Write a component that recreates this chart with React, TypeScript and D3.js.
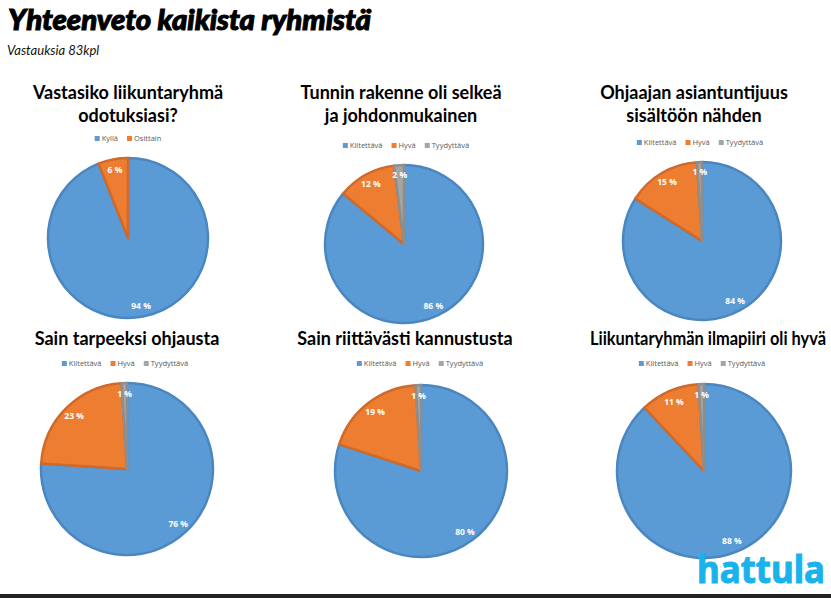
import React, { useEffect, useRef } from 'react';
import * as d3 from 'd3';

const mainTitle = 'Yhteenveto kaikista ryhmistä';
const subTitle = 'Vastauksia 83kpl';
const logoText = 'hattula';

const yesPartlyLabels = ['Kyllä', 'Osittain'];
const gradeLabels = ['Kiitettävä', 'Hyvä', 'Tyydyttävä'];

const chartTitles = [
  ['Vastasiko liikuntaryhmä', 'odotuksiasi?'],
  ['Tunnin rakenne oli selkeä', 'ja johdonmukainen'],
  ['Ohjaajan asiantuntijuus', 'sisältöön nähden'],
  ['Sain tarpeeksi ohjausta'],
  ['Sain riittävästi kannustusta'],
  ['Liikuntaryhmän ilmapiiri oli hyvä'],
];

const expectationValues = [94, 6];
const structureValues = [86, 12, 2];
const expertiseValues = [84, 15, 1];
const guidanceValues = [76, 23, 1];
const encouragementValues = [80, 19, 1];
const atmosphereValues = [88, 11, 1];

const chartValues = [
  expectationValues,
  structureValues,
  expertiseValues,
  guidanceValues,
  encouragementValues,
  atmosphereValues,
];
const chartLegends = [yesPartlyLabels, gradeLabels, gradeLabels, gradeLabels, gradeLabels, gradeLabels];

// panel layout (pixel positions); fitW squeezes a title that runs to the page edge
const panels = [
  { cx: 128, cy: 238, r: 80, titleX: 128, titleY: 99, legendX: 128, legendY: 139, fitW: 0 },
  { cx: 404, cy: 244, r: 79, titleX: 401, titleY: 99, legendX: 406, legendY: 146, fitW: 0 },
  { cx: 702, cy: 241, r: 79, titleX: 694, titleY: 99, legendX: 700, legendY: 143, fitW: 0 },
  { cx: 127, cy: 469, r: 86, titleX: 127, titleY: 345, legendX: 125, legendY: 364, fitW: 0 },
  { cx: 421, cy: 471, r: 86, titleX: 405, titleY: 345, legendX: 420, legendY: 364, fitW: 0 },
  { cx: 704, cy: 471, r: 87, titleX: 708, titleY: 345, legendX: 702, legendY: 364, fitW: 236 },
];

const fills = ['#5B9BD5', '#ED7D31', '#A5A5A5'];
const edges = ['#4A86C0', '#D0692A', '#8E8E8E'];

const W = 831;
const H = 598;

const App: React.FC = () => {
  const svgRef = useRef<SVGSVGElement | null>(null);

  useEffect(() => {
    if (!svgRef.current) return;
    const svg = d3.select(svgRef.current);
    svg.selectAll('*').remove();

    svg.append('rect').attr('width', W).attr('height', H).attr('fill', '#ffffff');

    // Header
    svg
      .append('text')
      .attr('x', 8)
      .attr('y', 30)
      .attr('font-family', 'Lato, "Open Sans", sans-serif')
      .attr('font-weight', 900)
      .attr('font-style', 'italic')
      .attr('font-size', '28px')
      .attr('fill', '#000')
      .attr('stroke', '#000')
      .attr('stroke-width', 1)
      .attr('textLength', 363)
      .attr('lengthAdjust', 'spacingAndGlyphs')
      .text(mainTitle);

    svg
      .append('text')
      .attr('x', 7)
      .attr('y', 55)
      .attr('font-family', 'Lato, "Open Sans", sans-serif')
      .attr('font-style', 'italic')
      .attr('font-size', '13px')
      .attr('fill', '#111')
      .text(subTitle);

    const pie = d3.pie<number>().sort(null).value((d) => d);

    panels.forEach((p, i) => {
      const g = svg.append('g');
      const values = chartValues[i];
      const legend = chartLegends[i];

      // Title
      chartTitles[i].forEach((line, j) => {
        const t = g
          .append('text')
          .attr('x', p.titleX)
          .attr('y', p.titleY + j * 23)
          .attr('text-anchor', 'middle')
          .attr('font-family', 'Lato, "Open Sans", sans-serif')
          .attr('font-weight', 700)
          .attr('font-size', '18px')
          .attr('fill', '#000')
          .text(line);
        if (p.fitW) t.attr('textLength', p.fitW).attr('lengthAdjust', 'spacingAndGlyphs');
      });

      // Legend
      const lg = g.append('g');
      let x = 0;
      legend.forEach((name, k) => {
        lg.append('rect')
          .attr('x', x)
          .attr('y', -3)
          .attr('width', 5)
          .attr('height', 5)
          .attr('fill', fills[k]);
        const t = lg
          .append('text')
          .attr('x', x + 7)
          .attr('y', 2)
          .attr('font-family', '"Open Sans", sans-serif')
          .attr('font-size', '7.5px')
          .attr('fill', '#595959')
          .text(name);
        const w = (t.node() as SVGTextElement).getComputedTextLength();
        x += 7 + w + 9;
      });
      const total = x - 9;
      lg.attr('transform', `translate(${p.legendX - total / 2},${p.legendY})`);

      // Pie
      const arcs = pie(values);
      const arc = d3.arc<d3.PieArcDatum<number>>().innerRadius(0).outerRadius(p.r);
      const labelArc = d3
        .arc<d3.PieArcDatum<number>>()
        .innerRadius(p.r * 0.87)
        .outerRadius(p.r * 0.87);

      const pg = g.append('g').attr('transform', `translate(${p.cx},${p.cy})`);
      pg.selectAll('path')
        .data(arcs)
        .enter()
        .append('path')
        .attr('d', arc)
        .attr('fill', (_, k) => fills[k])
        .attr('stroke', (_, k) => edges[k])
        .attr('stroke-width', 2.5)
        .attr('stroke-linejoin', 'round');

      pg.selectAll('text.lbl')
        .data(arcs)
        .enter()
        .append('text')
        .attr('class', 'lbl')
        .attr('transform', (d) => `translate(${labelArc.centroid(d)})`)
        .attr('text-anchor', 'middle')
        .attr('dy', '0.35em')
        .attr('font-family', '"Open Sans", sans-serif')
        .attr('font-weight', 700)
        .attr('font-size', '8.5px')
        .attr('fill', '#ffffff')
        .text((d) => `${d.data} %`);
    });

    // Logo
    svg
      .append('text')
      .attr('x', 697)
      .attr('y', 583)
      .attr('font-family', '"Noto Sans", sans-serif')
      .attr('font-weight', 700)
      .attr('font-size', '38px')
      .attr('stroke', '#1AB2EA')
      .attr('stroke-width', 1)
      .attr('stroke-linejoin', 'round')
      .attr('textLength', 128)
      .attr('lengthAdjust', 'spacingAndGlyphs')
      .attr('fill', '#1AB2EA')
      .text(logoText);

    // bottom strip
    svg.append('rect').attr('x', 0).attr('y', 594).attr('width', W).attr('height', 4).attr('fill', '#222');
  }, []);

  return (
    <svg
      ref={svgRef}
      width={W}
      height={H}
      style={{ position: 'absolute', left: 0, top: 0, display: 'block' }}
    />
  );
};

export default App;
